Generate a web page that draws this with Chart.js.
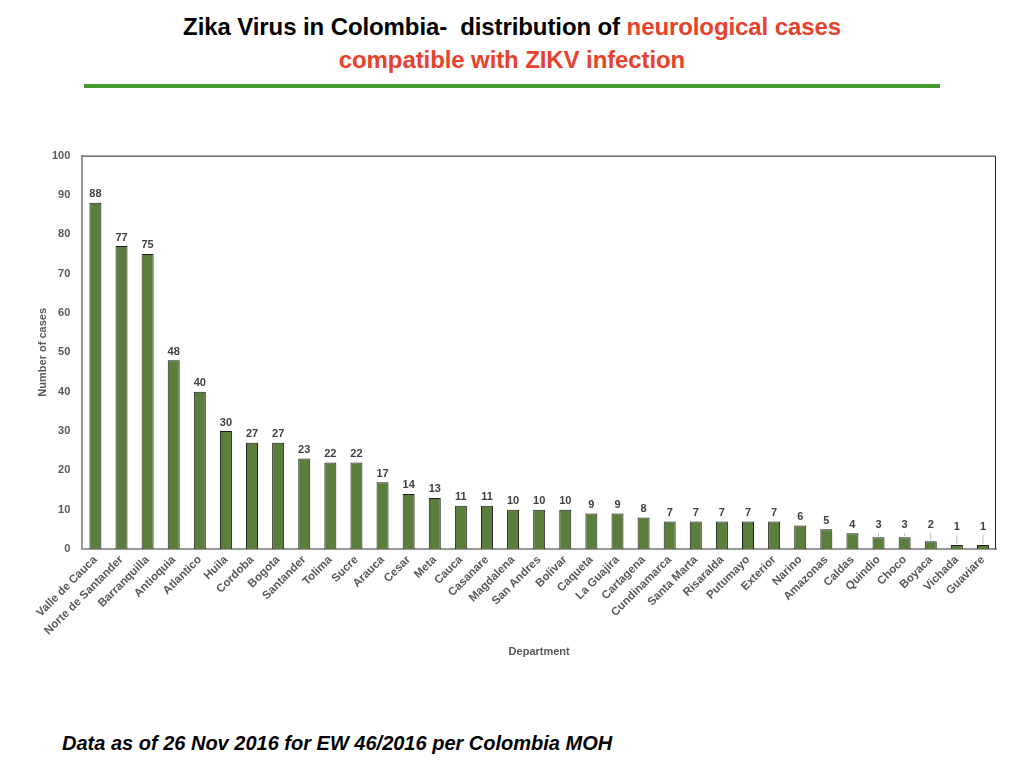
<!DOCTYPE html>
<html>
<head>
<meta charset="utf-8">
<script src="https://cdn.jsdelivr.net/npm/chart.js@4"></script>
<style>
  body { margin: 0; background: #fff; font-family: "Liberation Sans", Arial, sans-serif; }
  #page { position: relative; width: 1024px; height: 768px; overflow: hidden; }
  .title { position: absolute; left: 0; width: 1024px; text-align: center; font-weight: bold; font-size: 24px; letter-spacing: -0.1px; }
  .red { color: #e8412c; }
  #rule { position: absolute; left: 84px; top: 84px; width: 856px; height: 4px; background: #4b9a2f; }
  #note { position: absolute; left: 62px; top: 732px; font-size: 20px; font-weight: bold; font-style: italic; color: #000; }
  #wrap { position: absolute; left: 0; top: 137px; width: 1024px; height: 526px; }
</style>
</head>
<body>
<div id="page">
  <div class="title" style="top:13px;">Zika Virus in Colombia-&nbsp; distribution of <span class="red">neurological cases</span></div>
  <div class="title red" style="top:46px;">compatible with ZIKV infection</div>
  <div id="rule"></div>
  <div id="wrap"><canvas id="chart"></canvas></div>
  <div id="note">Data as of 26 Nov 2016 for EW 46/2016 per Colombia MOH</div>
</div>
<script>
// Departments and case counts
const departments = ['Valle de Cauca', 'Norte de Santander', 'Barranquilla', 'Antioquia', 'Atlantico',
  'Huila', 'Cordoba', 'Bogota', 'Santander', 'Tolima', 'Sucre', 'Arauca', 'Cesar', 'Meta', 'Cauca',
  'Casanare', 'Magdalena', 'San Andres', 'Bolivar', 'Caqueta', 'La Guajira', 'Cartagena',
  'Cundinamarca', 'Santa Marta', 'Risaralda', 'Putumayo', 'Exterior', 'Narino', 'Amazonas',
  'Caldas', 'Quindio', 'Choco', 'Boyaca', 'Vichada', 'Guaviare'];
const cases = [88, 77, 75, 48, 40, 30, 27, 27, 23, 22, 22, 17, 14, 13, 11, 11, 10, 10, 10, 9, 9, 8,
  7, 7, 7, 7, 7, 6, 5, 4, 3, 3, 2, 1, 1];
const yTicks = [0, 10, 20, 30, 40, 50, 60, 70, 80, 90, 100];

const FONT = '"Liberation Sans", Arial, sans-serif';

// value labels above each bar, with a short grey leader for the tiny ones
const valueLabels = {
  id: 'valueLabels',
  afterDatasetsDraw(chart) {
    const ctx = chart.ctx;
    const meta = chart.getDatasetMeta(0);
    const yScale = chart.scales.y;
    ctx.save();
    ctx.font = 'bold 11px ' + FONT;
    ctx.fillStyle = '#404040';
    ctx.textAlign = 'center';
    ctx.textBaseline = 'bottom';
    meta.data.forEach((bar, i) => {
      const v = cases[i];
      let ty = bar.y - 3;
      if (v <= 3) {
        ty = yScale.getPixelForValue(v <= 1 ? 4.2 : 4.6);
        ctx.strokeStyle = '#bbbbbb';
        ctx.lineWidth = 1;
        ctx.beginPath();
        ctx.moveTo(bar.x, ty + 2);
        ctx.lineTo(bar.x, bar.y - 1);
        ctx.stroke();
      }
      ctx.fillText(String(v), bar.x, ty);
    });
    ctx.restore();
  }
};

// top/right frame lines and the y axis title
const frame = {
  id: 'frame',
  afterDraw(chart) {
    const a = chart.chartArea;
    const ctx = chart.ctx;
    ctx.save();
    ctx.strokeStyle = '#222';
    ctx.lineWidth = 1;
    ctx.beginPath();
    ctx.moveTo(a.left, a.top + 0.5);
    ctx.lineTo(a.right - 0.5, a.top + 0.5);
    ctx.lineTo(a.right - 0.5, a.bottom);
    ctx.stroke();

    ctx.translate(a.left - 39, (a.top + a.bottom) / 2);
    ctx.rotate(-Math.PI / 2);
    ctx.font = 'bold 11px ' + FONT;
    ctx.fillStyle = '#595959';
    ctx.textAlign = 'center';
    ctx.textBaseline = 'middle';
    ctx.fillText('Number of cases', 0, 0);
    ctx.restore();
  }
};

new Chart(document.getElementById('chart'), {
  type: 'bar',
  data: {
    labels: departments,
    datasets: [{
      data: cases,
      backgroundColor: '#5a7e3c',
      borderColor: '#1b1b1b',
      borderWidth: 1,
      barPercentage: 0.46,
      categoryPercentage: 1
    }]
  },
  options: {
    responsive: true,
    maintainAspectRatio: false,
    animation: false,
    layout: { padding: { top: 6, right: 28, left: 40 } },
    plugins: { legend: { display: false }, tooltip: { enabled: false } },
    scales: {
      x: {
        grid: { display: false, drawTicks: false },
        border: { color: '#999', width: 2 },
        ticks: {
          autoSkip: false, maxRotation: 45, minRotation: 45, padding: 4,
          color: '#595959', font: { family: FONT, size: 11.5, weight: 'bold' }
        },
        title: {
          display: true, text: 'Department', color: '#595959', padding: { top: 4 },
          font: { family: FONT, size: 11, weight: 'bold' }
        }
      },
      y: {
        min: 0, max: 100,
        afterBuildTicks(axis) { axis.ticks = yTicks.map(v => ({ value: v })); },
        grid: { display: false, drawTicks: false },
        border: { color: '#999', width: 2 },
        ticks: {
          padding: 12, color: '#595959',
          font: { family: FONT, size: 11, weight: 'bold' }
        }
      }
    }
  },
  plugins: [valueLabels, frame]
});
</script>
</body>
</html>
